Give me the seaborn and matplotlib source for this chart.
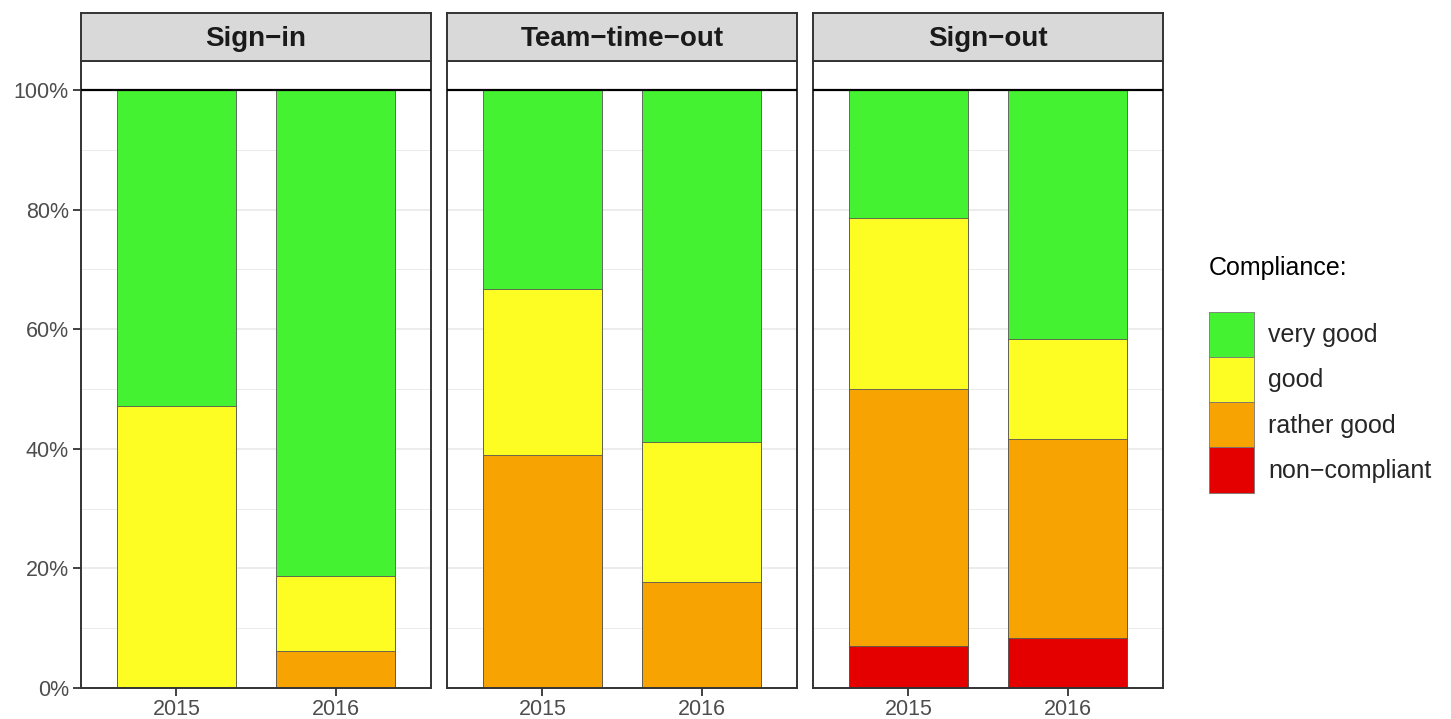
import pandas as pd
import matplotlib
matplotlib.use("Agg")
import matplotlib.pyplot as plt
from matplotlib.patches import Patch
import seaborn as sns

# Daten (Prozent je Phase und Jahr)
stages = ["Sign\u2212in", "Team\u2212time\u2212out", "Sign\u2212out"]
years = ["2015", "2016"]
levels = ["very good", "good", "rather good", "non\u2212compliant"]
colors = ["#45F232", "#FDFD24", "#F7A302", "#E50000"]

# Reihenfolge: Sign-in 2015, 2016, Team 2015, 2016, Sign-out 2015, 2016
very_good = [52.9, 81.3, 33.3, 58.8, 21.4, 41.7]
good = [47.1, 12.5, 27.8, 23.5, 28.6, 16.7]
rather_good = [0.0, 6.2, 38.9, 17.7, 42.9, 33.3]
non_compliant = [0.0, 0.0, 0.0, 0.0, 7.1, 8.3]

rows = []
for i, st in enumerate(stages):
    for j, yr in enumerate(years):
        k = i * 2 + j
        vals = [very_good[k], good[k], rather_good[k], non_compliant[k]]
        for lv, v in zip(levels, vals):
            rows.append({"stage": st, "year": yr, "level": lv, "pct": v})
df = pd.DataFrame(rows)

# kumulierte Werte von unten nach oben
df["rank"] = df["level"].map({lv: n for n, lv in enumerate(levels)})
df = df.sort_values(["stage", "year", "rank"], ascending=[True, True, False])
df["cum"] = df.groupby(["stage", "year"])["pct"].cumsum()

sns.set_style("white")
plt.rcParams["font.family"] = ["Liberation Sans", "DejaVu Sans"]

W, H = 1451, 719
fig = plt.figure(figsize=(W / 100, H / 100), dpi=100)

panel_left = [81, 447, 813]
panel_w = 350
top, bottom = 61, 688
strip_top = 13

for i, st in enumerate(stages):
    ax = fig.add_axes([panel_left[i] / W, 1 - bottom / H, panel_w / W, (bottom - top) / H])
    sub = df[df["stage"] == st]
    for lv, col in zip(levels, colors):
        d = sub[sub["level"] == lv]
        sns.barplot(data=d, x="year", y="cum", order=years, color=col, width=0.75,
                    edgecolor="#555555", linewidth=0.6, errorbar=None, ax=ax,
                    saturation=1, zorder=2)
    ax.set_xlim(-0.6, 1.6)
    ax.set_ylim(0, 104.85)
    ax.axhline(100, color="black", lw=1.6, zorder=3)
    ax.set_yticks(range(0, 101, 20))
    ax.set_yticks(range(10, 101, 20), minor=True)
    ax.grid(axis="y", which="major", color="#EBEBEB", lw=1.3, zorder=0)
    ax.grid(axis="y", which="minor", color="#EBEBEB", lw=0.7, zorder=0)
    ax.set_axisbelow(True)
    ax.set_xlabel("")
    ax.set_ylabel("")
    ax.tick_params(axis="both", which="major", length=5.5, width=1.3, color="#333333",
                   labelsize=15.5, labelcolor="#4D4D4D", direction="out",
                   bottom=True, left=True, pad=3.2)
    ax.tick_params(axis="x", which="major", pad=2.2)
    ax.tick_params(axis="y", which="minor", length=0)
    if i == 0:
        ax.set_yticklabels([f"{v}%" for v in range(0, 101, 20)])
    else:
        ax.set_yticklabels([])
        ax.tick_params(axis="y", which="major", length=0)
    for sp in ax.spines.values():
        sp.set_visible(True)
        sp.set_color("#333333")
        sp.set_linewidth(1.4)

    sax = fig.add_axes([panel_left[i] / W, 1 - top / H, panel_w / W, (top - strip_top) / H])
    sax.set_facecolor("#D9D9D9")
    sax.set_xticks([])
    sax.set_yticks([])
    for sp in sax.spines.values():
        sp.set_color("#333333")
        sp.set_linewidth(1.4)
    sax.text(0.5, 0.45, st, ha="center", va="center", fontsize=20, fontweight="bold",
             color="#1A1A1A", transform=sax.transAxes)

# Legende
fig.text(1209 / W, 1 - 268 / H, "Compliance:", ha="left", va="center", fontsize=18,
         color="#000000")
handles = [Patch(facecolor=c, edgecolor="#777777", linewidth=0.6) for c in colors]
fig.legend(handles, levels, loc="upper left",
           bbox_to_anchor=(1209 / W, 1 - 312 / H), frameon=False, fontsize=18,
           handlelength=1.8, handleheight=2.4, labelspacing=0,
           handletextpad=0.56, borderpad=0, borderaxespad=0)

fig.savefig("out.png", dpi=100)
